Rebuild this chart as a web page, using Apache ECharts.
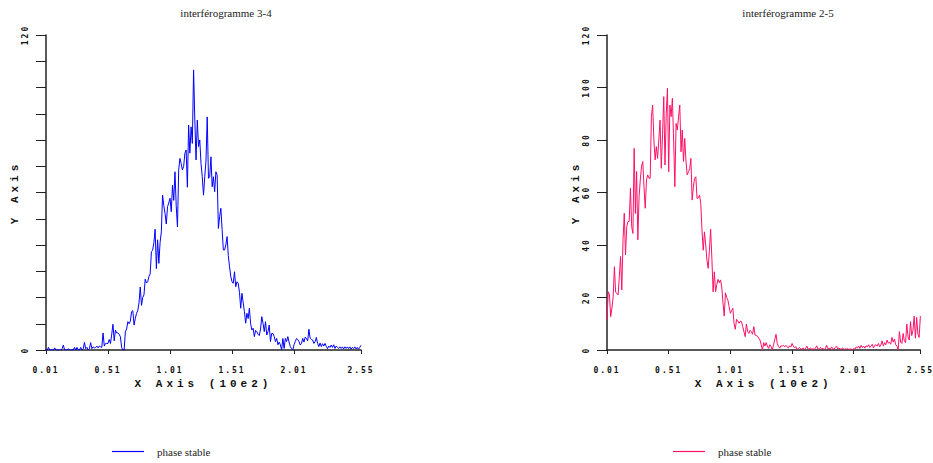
<!DOCTYPE html>
<html lang="fr">
<head>
    <meta charset="UTF-8">
    <title>interférogrammes</title>
    <script src="https://cdn.jsdelivr.net/npm/echarts@6/dist/echarts.min.js"></script>
    <style>
        html, body { margin: 0; padding: 0; background: #fff; }
        #chart { width: 933px; height: 463px; }
        /* tick labels and axis names are letter-spaced in the original */
        #chart text[style*="DejaVu Sans Mono"] { letter-spacing: 2px; }
        #chart text[style*="Liberation Mono"] { letter-spacing: 4px; }
    </style>
</head>
<body>
    <div id="chart"></div>

    <script>
    // x positions are 1..255 (shown as 0.01 .. 2.55, unit 10e2)
    var xTicks = [1, 51, 101, 151, 201, 255];
    var yTicksLeft = [0, 120];

    // interférogramme 3-4
    var interf34 = [
        0, 0, 1, 0, 0, 0, 0, 0.8, 0, 0,
        0, 0, 0, 0.5, 1.9, 0, 0, 0, 0.5, 0,
        0, 0, 0, 1, 0, 1, 0, 0, 1, 0,
        0.5, 2.9, 0.5, 1, 0, 0.5, 2.8, 0.5, 1.2, 0.8,
        1, 1.5, 0.8, 1.5, 1.2, 1, 6.5, 1.5, 2.5, 2.5,
        2.5, 4, 2.5, 6, 9.8, 3.5, 7.6, 6.5, 6.5, 6,
        5, 1, 0, 0, 7, 8, 10.8, 10, 11, 14.6,
        15, 9.5, 12, 14, 15, 18, 24, 17, 20, 21,
        27, 25.5, 26, 28, 29, 37.5, 38, 41, 46, 31,
        42, 33, 41, 45, 59, 55, 52, 48, 54.6, 56,
        57.8, 52.7, 62.8, 57, 67.9, 55, 46.9, 68.6, 73, 71,
        68.6, 70, 75, 76.2, 62, 85.7, 75, 85, 78.7, 106.7,
        87.6, 72.4, 87.6, 77.5, 80, 71, 66, 59, 66, 72,
        88.8, 65.4, 66, 73.6, 62.2, 66, 60.3, 67.9, 66.6, 46.3,
        50.8, 54, 46, 38.1, 38.1, 40, 43.2, 36, 31.7, 28,
        26, 25.4, 29.8, 24.1, 26, 25.4, 22, 15.9, 21.6, 18,
        14.6, 10.2, 14, 12, 15.9, 10, 7.6, 8.3, 5.1, 7.5,
        7, 6, 5.5, 8, 12.7, 10.2, 7, 10.8, 5.7, 7,
        9.5, 3.2, 6.3, 6.3, 5.1, 3.2, 4.4, 2, 3, 2,
        0, 4.4, 0.6, 4.4, 3.2, 5.1, 3, 1.3, 0.5, 0,
        2, 3.2, 4.4, 4, 3.2, 1.9, 2.5, 4.4, 3, 4.9,
        4.4, 3.5, 7.9, 4.5, 4, 3.8, 2.5, 3.2, 4.8, 2.5,
        1.3, 2.7, 1.3, 2.4, 1.5, 2.5, 1.4, 0.5, 1.5, 1,
        1.9, 1, 2, 0.6, 1.5, 1, 0.6, 1.2, 0.6, 1.2,
        0.4, 1.2, 0.6, 1.2, 0.5, 1.2, 0.3, 1, 0.5, 1.2,
        0.4, 1, 0.3, 1, 1.8
    ];

    // interférogramme 2-5
    var interf25 = [
        11.4, 22.2, 21, 12.7, 16, 20.3, 31.7, 22, 21.6, 21,
        28, 35.6, 22.9, 42, 52.1, 36.2, 47, 48.9, 49, 61.6,
        47, 44.4, 76.8, 52, 68, 42, 58.4, 64.8, 70, 71.8,
        62, 54, 64.8, 66.7, 65.5, 65.4, 88.9, 93.3, 80, 72.4,
        77.5, 73, 80, 87.6, 69.2, 82, 96.5, 70.5, 90, 99.7,
        67.9, 93.3, 88.9, 95.9, 80, 62.2, 86.3, 83.8, 88.9, 93.3,
        75.5, 83.8, 71.8, 80.6, 72, 66.7, 67.9, 69, 73, 57.1,
        62, 65.4, 66, 57.7, 58, 59, 55.9, 45.7, 38, 45,
        40, 34.3, 31.1, 38, 46, 35, 22.2, 29.8, 22.2, 25,
        26.9, 25.6, 26.7, 24, 18, 12.9, 21.8, 20, 19, 16.5,
        14, 15, 15.9, 10, 7.9, 11.7, 11, 10.2, 11, 10.8,
        8.9, 7, 5.1, 9.9, 7, 6.3, 7.5, 7, 6, 8.9,
        5.7, 5.5, 5.3, 4.5, 3.8, 2, 0, 2.8, 1.5, 2.8,
        1.5, 0.6, 2, 1.3, 0, 2, 4, 6, 2.5, 1.3,
        0.7, 1.6, 1.5, 1.8, 1.2, 1.8, 1.2, 0.8, 1.6, 1.1,
        2.5, 1.5, 0.8, 1.3, 0.2, 0.5, 1, 0.4, 0.3, 0.8,
        0.2, 0.6, 1.5, 0.3, 0.5, 0.8, 0.2, 0.5, 0.2, 0.8,
        1.6, 0.3, 0.5, 1, 0.3, 0.7, 0.2, 0.5, 1.8, 0.5,
        0.7, 0.3, 1.2, 0.5, 0.3, 1, 1.5, 0.4, 0.8, 0.3,
        0.5, 0.8, 0.2, 0.4, 0.3, 0.6, 0.2, 0.4, 0.3, 0.2,
        0.5, 0.3, 1.2, 0.8, 1.5, 0.6, 1.8, 0.9, 1.5, 0.7,
        1.6, 1.2, 2, 1, 1.5, 2.2, 0.8, 1.8, 2, 1.5,
        2.5, 1.2, 2, 3.5, 1.5, 2.8, 2, 3.8, 2.6, 3,
        2.2, 4.8, 3, 4.2, 2, 1.5, 0, 7, 3, 2.5,
        6.3, 3.5, 2.8, 9.9, 5, 3.8, 10.8, 5.5, 7.5, 12.9,
        4.5, 12.4, 6, 4.8, 12.9
    ];

    var blue = '#0000ff';
    var pink = '#ff1166';
    var axisColor = '#222';

    function toPoints(vals) {
        return vals.map(function (v, i) { return [i + 1, v]; });
    }

    function xAxisFor(gridIndex) {
        return {
            type: 'value', gridIndex: gridIndex, min: 1, max: 255,
            name: 'X Axis (10e2)', nameLocation: 'middle', nameGap: 28,
            nameTextStyle: { fontFamily: 'Liberation Mono', fontSize: 11, fontWeight: 'bold', color: '#111' },
            axisLine: { lineStyle: { color: axisColor, width: 1.5 } },
            axisTick: { show: true, length: 4, customValues: xTicks, lineStyle: { color: axisColor } },
            axisLabel: {
                customValues: xTicks, margin: 16,
                fontFamily: 'DejaVu Sans Mono', fontSize: 8, fontWeight: 'bold', color: '#111',
                formatter: function (v) { return (v / 100).toFixed(2); }
            },
            splitLine: { show: false }
        };
    }

    function yAxisFor(gridIndex, interval, labelValues) {
        var label = {
            rotate: 90, margin: 17,
            fontFamily: 'DejaVu Sans Mono', fontSize: 8, fontWeight: 'bold', color: '#111'
        };
        if (labelValues) label.customValues = labelValues;
        return {
            type: 'value', gridIndex: gridIndex, min: 0, max: 120, interval: interval,
            name: 'Y Axis', nameLocation: 'middle', nameGap: 25, nameRotate: 90,
            nameTextStyle: { fontFamily: 'Liberation Mono', fontSize: 11, fontWeight: 'bold', color: '#111' },
            axisLine: { show: true, lineStyle: { color: axisColor, width: 1.5 } },
            axisTick: { show: true, length: 10, lineStyle: { color: axisColor } },
            axisLabel: label,
            splitLine: { show: false }
        };
    }

    var titleFont = { fontFamily: 'Liberation Serif', fontSize: 11, fontWeight: 'normal', color: '#222' };
    var legendFont = { fontFamily: 'Liberation Serif', fontSize: 11, color: '#222', padding: [0, 0, 0, 8] };

    var option = {
        backgroundColor: '#fff',
        animation: false,
        title: [
            { text: 'interférogramme 3-4', left: 221, top: 2, textAlign: 'center', textStyle: titleFont },
            { text: 'interférogramme 2-5', left: 783, top: 2, textAlign: 'center', textStyle: titleFont }
        ],
        legend: [
            { left: 107, top: 441, icon: 'rect', itemWidth: 32, itemHeight: 1.2, textStyle: legendFont,
              data: [{ name: 'phase stable', itemStyle: { color: blue } }] },
            { left: 668, top: 441, icon: 'rect', itemWidth: 32, itemHeight: 1.2, textStyle: legendFont,
              data: [{ name: 'phase stable', itemStyle: { color: pink } }] }
        ],
        grid: [
            { left: 46, top: 35, width: 315, height: 315 },
            { left: 607, top: 35, width: 315, height: 315 }
        ],
        xAxis: [xAxisFor(0), xAxisFor(1)],
        yAxis: [yAxisFor(0, 10, yTicksLeft), yAxisFor(1, 20, null)],
        series: [
            { name: 'phase stable', type: 'line', xAxisIndex: 0, yAxisIndex: 0,
              data: toPoints(interf34), symbol: 'none', color: blue,
              lineStyle: { color: blue, width: 1 } },
            { name: 'phase stable', type: 'line', xAxisIndex: 1, yAxisIndex: 1,
              data: toPoints(interf25), symbol: 'none', color: pink,
              lineStyle: { color: pink, width: 1 } }
        ]
    };

    var myChart = echarts.init(document.getElementById('chart'), null, { renderer: 'svg' });
    myChart.setOption(option);
    </script>
</body>
</html>
